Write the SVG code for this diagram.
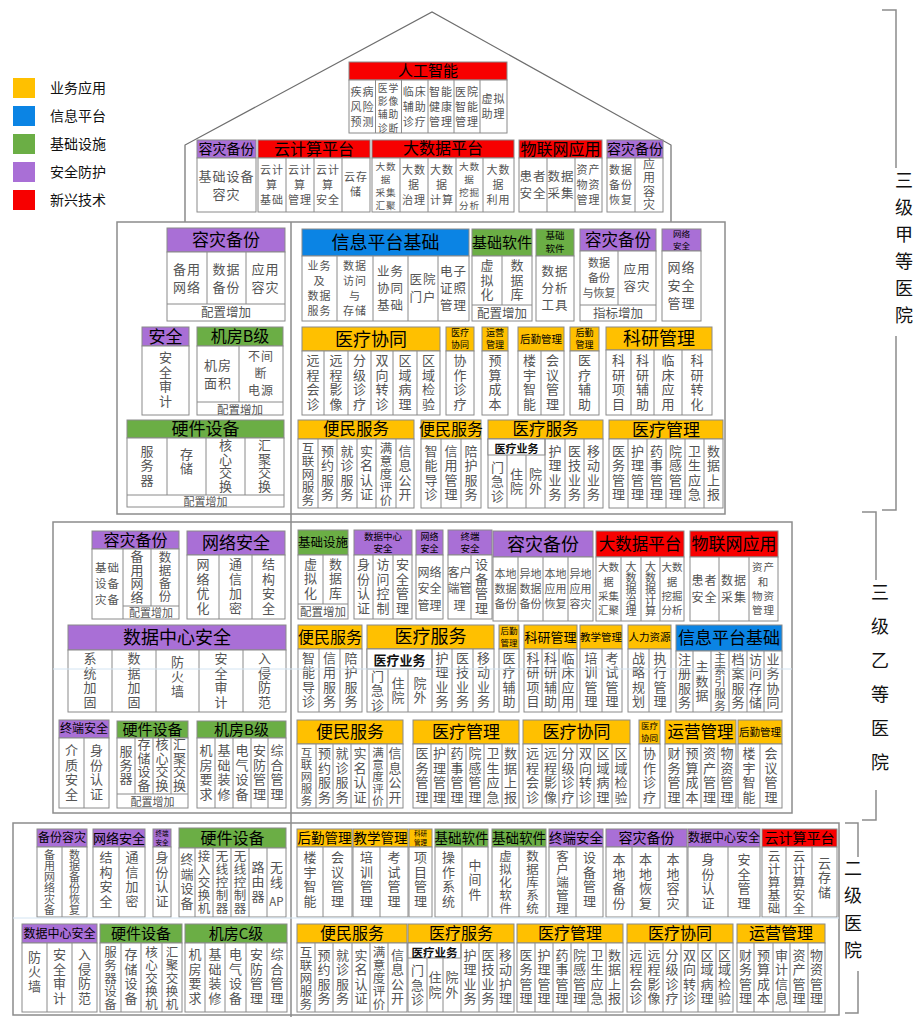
<svg xmlns="http://www.w3.org/2000/svg" width="920" height="1027" viewBox="0 0 920 1027">
<style>
text{font-family:"Noto Sans CJK SC","Noto Sans",sans-serif}
.o{fill:#FFC000}.b{fill:#0B84E4}.g{fill:#6BAE45}.p{fill:#A96FD6}.r{fill:#F70000}
.hd{stroke:#8a8a8a;stroke-width:1}
.bd{fill:#fff;stroke:#8a8a8a;stroke-width:1}
.sb{fill:#fff;stroke:#8a8a8a;stroke-width:1}
.dv{fill:none;stroke:#8a8a8a;stroke-width:1}
.ob{fill:none;stroke:#8c8c8c;stroke-width:1.5}
.ln{fill:none;stroke:#6e6e6e;stroke-width:1.2}
.fa{fill:none;stroke:#d3e4f2;stroke-width:1}
.h{text-anchor:middle;fill:#000}
.t{text-anchor:middle;fill:#555;font-size:12.5px;letter-spacing:1px}
.k{text-anchor:middle;fill:#555;font-size:12.5px}
.v{writing-mode:vertical-rl;text-anchor:middle;fill:#555;font-size:13px;letter-spacing:1.5px}
.v5{writing-mode:vertical-rl;text-anchor:middle;fill:#555;font-size:12.5px;letter-spacing:0.5px}
.v5s{writing-mode:vertical-rl;text-anchor:middle;fill:#555;font-size:11.5px;letter-spacing:0.5px}
.v6{writing-mode:vertical-rl;text-anchor:middle;fill:#555;font-size:11px;letter-spacing:0px}
.vt{letter-spacing:0.5px}
.sub{text-anchor:middle;fill:#111;font-weight:bold}
.lg{fill:#111;font-size:14px}
.lab{writing-mode:vertical-rl;text-anchor:middle;fill:#111;font-size:18px}
.f65{font-size:6.5px}.f85{font-size:8.5px}.f9s{font-size:9px}.f9{font-size:9.5px}.f96{font-size:9.6px}.f98{font-size:9.8px}.f10s{font-size:10px}.f10{font-size:10.5px}.f11s{font-size:11px}.f11{font-size:11.5px}.f12{font-size:12px}.f125{font-size:12.5px}.f13{font-size:13px}.f135{font-size:13.5px}.f14{font-size:14px}.f15{font-size:15px}.f16{font-size:16px}.f165{font-size:16.5px}.f17{font-size:17px}.f18{font-size:18px}
.l0{letter-spacing:0}
</style>

<g id="legend">
<rect class="o" x="13" y="78" width="22" height="20"/><text class="lg" x="50" y="93">业务应用</text>
<rect class="b" x="13" y="106" width="22" height="20"/><text class="lg" x="50" y="121">信息平台</text>
<rect class="g" x="13" y="134" width="22" height="20"/><text class="lg" x="50" y="149">基础设施</text>
<rect class="p" x="13" y="162" width="22" height="20"/><text class="lg" x="50" y="177">安全防护</text>
<rect class="r" x="13" y="190" width="22" height="20"/><text class="lg" x="50" y="205">新兴技术</text>
</g>

<g id="connectors">
<path class="ln" d="M185 222V145L432 12L671 145V222"/>
<path class="ln" d="M291 222V1017"/>
<path class="ob" d="M882 10H896V168M896 336V510H882"/>
<path class="ob" d="M862 512H876V580M876 790V820H862"/>
<path class="ob" d="M845 823H858V857M858 971V1013H845"/>
</g>

<g id="frames">
<rect class="ob" x="117" y="222" width="608" height="292"/>
<rect class="ob" x="53" y="522" width="739" height="291"/>
<rect class="ob" x="13" y="823" width="826" height="192"/>
</g>

<g id="labels">
<text class="lab" x="904" y="252" style="letter-spacing:9px">三级甲等医院</text>
<text class="lab" x="880" y="685" style="letter-spacing:16px">三级乙等医院</text>
<text class="lab" x="853" y="914" style="letter-spacing:9.5px">二级医院</text>
</g>

<!-- Roof -->
<g id="r-ai">
<rect class="hd r" x="349" y="62" width="158" height="18"/>
<rect class="bd" x="349" y="80" width="158" height="53"/>
<path class="dv" d="M375.5 80V133M401.5 80V133M428 80V133M454 80V133M480 80V133"/>
<text class="h f15" x="428" y="76.3">人工智能</text>
<text class="t f11s" x="362.5" y="95.6">疾病<tspan x="362.5" dy="15">风险</tspan><tspan x="362.5" dy="15">预测</tspan></text>
<text class="t f98" x="388.5" y="92">医学<tspan x="388.5" dy="13.2">影像</tspan><tspan x="388.5" dy="13.2">辅助</tspan><tspan x="388.5" dy="13.2">诊断</tspan></text>
<text class="t f11s" x="414.7" y="95.6">临床<tspan x="414.7" dy="15">辅助</tspan><tspan x="414.7" dy="15">诊疗</tspan></text>
<text class="t f11s" x="441" y="95.6">智能<tspan x="441" dy="15">健康</tspan><tspan x="441" dy="15">管理</tspan></text>
<text class="t f11s" x="467" y="95.6">医院<tspan x="467" dy="15">智能</tspan><tspan x="467" dy="15">管理</tspan></text>
<text class="t f11s" x="493.5" y="103.1">虚拟<tspan x="493.5" dy="15">助理</tspan></text>
</g>
<g id="r-dr1">
<rect class="hd p" x="197" y="140" width="59" height="18"/>
<rect class="bd" x="197" y="158" width="59" height="54"/>
<text class="h f14" x="226.5" y="154">容灾备份</text>
<text class="t f13" x="226.5" y="180.7">基础设备<tspan x="226.5" dy="18">容灾</tspan></text>
</g>
<g id="r-cloud">
<rect class="hd r" x="258" y="140" width="112" height="18"/>
<rect class="bd" x="258" y="158" width="112" height="54"/>
<path class="dv" d="M286 158V212M314 158V212M342 158V212"/>
<text class="h f16" x="314" y="154.8">云计算平台</text>
<text class="t f11s" x="272" y="173.9">云计<tspan x="272" dy="15">算</tspan><tspan x="272" dy="15">基础</tspan></text>
<text class="t f11s" x="300" y="173.9">云计<tspan x="300" dy="15">算</tspan><tspan x="300" dy="15">管理</tspan></text>
<text class="t f11s" x="328" y="173.9">云计<tspan x="328" dy="15">算</tspan><tspan x="328" dy="15">安全</tspan></text>
<text class="t f11s" x="356" y="181.4">云存<tspan x="356" dy="15">储</tspan></text>
</g>
<g id="r-bigdata">
<rect class="hd r" x="372" y="140" width="142" height="18"/>
<rect class="bd" x="372" y="158" width="142" height="54"/>
<path class="dv" d="M400 158V212M428 158V212M456 158V212M483 158V212"/>
<text class="h f16" x="443" y="153.5">大数据平台</text>
<text class="t f96" x="386" y="170">大数<tspan x="386" dy="13">据</tspan><tspan x="386" dy="13">采集</tspan><tspan x="386" dy="13">汇聚</tspan></text>
<text class="t f11s" x="414" y="173.9">大数<tspan x="414" dy="15">据</tspan><tspan x="414" dy="15">治理</tspan></text>
<text class="t f11s" x="442" y="173.9">大数<tspan x="442" dy="15">据</tspan><tspan x="442" dy="15">计算</tspan></text>
<text class="t f96" x="469.5" y="170">大数<tspan x="469.5" dy="13">据</tspan><tspan x="469.5" dy="13">挖掘</tspan><tspan x="469.5" dy="13">分析</tspan></text>
<text class="t f11s" x="498.5" y="173.9">大数<tspan x="498.5" dy="15">据</tspan><tspan x="498.5" dy="15">利用</tspan></text>
</g>
<g id="r-iot">
<rect class="hd r" x="519" y="140" width="83" height="18"/>
<rect class="bd" x="519" y="158" width="83" height="54"/>
<path class="dv" d="M547 158V212M575 158V212"/>
<text class="h f16" x="560.5" y="154.8">物联网应用</text>
<text class="t f125" x="533" y="180.9">患者<tspan x="533" dy="17.2">安全</tspan></text>
<text class="t f125" x="561" y="180.9">数据<tspan x="561" dy="17.2">采集</tspan></text>
<text class="t f11s" x="588.5" y="173.9">资产<tspan x="588.5" dy="15">物资</tspan><tspan x="588.5" dy="15">管理</tspan></text>
</g>
<g id="r-dr2">
<rect class="hd p" x="607" y="140" width="56" height="18"/>
<rect class="bd" x="607" y="158" width="56" height="54"/>
<path class="dv" d="M635 158V212"/>
<text class="h f14" x="635" y="154">容灾备份</text>
<text class="t f11s" x="621" y="173.9">数据<tspan x="621" dy="15">备份</tspan><tspan x="621" dy="15">恢复</tspan></text>
<text class="v f12" x="649" y="185">应用容灾</text>
</g>

<!-- 三级甲等 left -->
<g id="a-dr">
<rect class="hd p" x="167" y="228" width="118" height="24"/>
<rect class="bd" x="167" y="252" width="118" height="69"/>
<path class="dv" d="M207 252V304M246 252V304M167 304H285"/>
<text class="h f17" x="226" y="246.1">容灾备份</text>
<text class="t f13" x="187" y="273.7">备用<tspan x="187" dy="18">网络</tspan></text>
<text class="t f13" x="226.5" y="273.7">数据<tspan x="226.5" dy="18">备份</tspan></text>
<text class="t f13" x="265.5" y="273.7">应用<tspan x="265.5" dy="18">容灾</tspan></text>
<text class="k" x="226" y="317">配置增加</text>
</g>
<g id="a-sec">
<rect class="hd p" x="142" y="327" width="47" height="19"/>
<rect class="bd" x="142" y="346" width="47" height="69"/>
<text class="h f17" x="165.5" y="342.6">安全</text>
<text class="v" x="165.5" y="380">安全审计</text>
</g>
<g id="a-room">
<rect class="hd g" x="197" y="327" width="86" height="19"/>
<rect class="bd" x="197" y="346" width="86" height="69"/>
<path class="dv" d="M239 346V402M197 402H283"/>
<text class="h f16" x="240" y="342.3">机房B级</text>
<text class="t f13" x="218" y="369.7">机房<tspan x="218" dy="18">面积</tspan></text>
<text class="t f12" x="261" y="361.3">不间<tspan x="261" dy="17">断</tspan><tspan x="261" dy="17">电源</tspan></text>
<text class="k f11" x="240" y="413.5">配置增加</text>
</g>
<g id="a-hw">
<rect class="hd g" x="127" y="420" width="157" height="18"/>
<rect class="bd" x="127" y="438" width="157" height="69"/>
<path class="dv" d="M167 438V495M206 438V495M245 438V495M127 495H284"/>
<text class="h f17" x="205.5" y="435.1">硬件设备</text>
<text class="v" x="147" y="466">服务器</text>
<text class="v" x="186.5" y="462">存储</text>
<text class="v vt" x="225.5" y="466">核心交换</text>
<text class="v vt" x="264.5" y="466">汇聚交换</text>
<text class="k f11s" x="205.5" y="506">配置增加</text>
</g>

<!-- 三级甲等 right -->
<g id="a-info">
<rect class="hd b" x="302" y="229" width="167" height="27"/>
<rect class="bd" x="302" y="256" width="167" height="65"/>
<path class="dv" d="M337 256V321M373 256V321M408 256V321M438 256V321"/>
<text class="h f18" x="385.5" y="249">信息平台基础</text>
<text class="t f11s" x="319.5" y="270">业务<tspan x="319.5" dy="15">及</tspan><tspan x="319.5" dy="15">数据</tspan><tspan x="319.5" dy="15">服务</tspan></text>
<text class="t f11s" x="355" y="270">数据<tspan x="355" dy="15">访问</tspan><tspan x="355" dy="15">与</tspan><tspan x="355" dy="15">存储</tspan></text>
<text class="t f125" x="390.5" y="275.8">业务<tspan x="390.5" dy="17.2">协同</tspan><tspan x="390.5" dy="17.2">基础</tspan></text>
<text class="t f125" x="423" y="284.4">医院<tspan x="423" dy="17.2">门户</tspan></text>
<text class="t f125" x="453.5" y="275.8">电子<tspan x="453.5" dy="17.2">证照</tspan><tspan x="453.5" dy="17.2">管理</tspan></text>
</g>
<g id="a-sw1">
<rect class="hd g" x="472" y="229" width="60" height="27"/>
<rect class="bd" x="472" y="256" width="60" height="65"/>
<path class="dv" d="M502 256V305M472 305H532"/>
<text class="h f15" x="502" y="247.9">基础软件</text>
<text class="v" x="487" y="280.5">虚拟化</text>
<text class="v" x="517" y="280.5">数据库</text>
<text class="k" x="502" y="317.5">配置增加</text>
</g>
<g id="a-sw2">
<rect class="hd g" x="536" y="229" width="38" height="27"/>
<rect class="bd" x="536" y="256" width="38" height="65"/>
<text class="h f9" x="555" y="239.4">基础<tspan x="555" dy="13">软件</tspan></text>
<text class="t f125" x="555" y="275.8">数据<tspan x="555" dy="17.2">分析</tspan><tspan x="555" dy="17.2">工具</tspan></text>
</g>
<g id="a-dr2">
<rect class="hd p" x="580" y="229" width="76" height="22"/>
<rect class="bd" x="580" y="251" width="76" height="70"/>
<path class="dv" d="M618 251V305M580 305H656"/>
<text class="h f165" x="618" y="246">容灾备份</text>
<text class="t f11s l0" x="599" y="267">数据<tspan x="599" dy="15">备份</tspan><tspan x="599" dy="15">与恢复</tspan></text>
<text class="t f125" x="637" y="273.9">应用<tspan x="637" dy="17.2">容灾</tspan></text>
<text class="k" x="618" y="317.5">指标增加</text>
</g>
<g id="a-net">
<rect class="hd p" x="662" y="229" width="39" height="22"/>
<rect class="bd" x="662" y="251" width="39" height="70"/>
<text class="h f85" x="681.5" y="237.3">网络<tspan x="681.5" dy="11.4">安全</tspan></text>
<text class="t f13" x="681.5" y="272">网络<tspan x="681.5" dy="18">安全</tspan><tspan x="681.5" dy="18">管理</tspan></text>
</g>
<g id="a-coop">
<rect class="hd o" x="302" y="327" width="138" height="24"/>
<rect class="bd" x="302" y="351" width="138" height="64"/>
<path class="dv" d="M324 351V415M348 351V415M371 351V415M393 351V415M417 351V415"/>
<text class="h f18" x="371" y="345.5">医疗协同</text>
<text class="v" x="313" y="383">远程会诊</text>
<text class="v" x="336" y="383">远程影像</text>
<text class="v" x="359.5" y="383">分级诊疗</text>
<text class="v" x="382" y="383">双向转诊</text>
<text class="v" x="405" y="383">区域病理</text>
<text class="v" x="428.5" y="383">区域检验</text>
</g>
<g id="a-coop2">
<rect class="hd o" x="446" y="327" width="28" height="24"/>
<rect class="bd" x="446" y="351" width="28" height="64"/>
<text class="h f9s" x="460" y="336.2">医疗<tspan x="460" dy="12">协同</tspan></text>
<text class="v" x="460" y="383">协作诊疗</text>
</g>
<g id="a-ops">
<rect class="hd o" x="482" y="327" width="26" height="24"/>
<rect class="bd" x="482" y="351" width="26" height="64"/>
<text class="h f9s" x="495" y="336.2">运营<tspan x="495" dy="12">管理</tspan></text>
<text class="v" x="495" y="383">预算成本</text>
</g>
<g id="a-log1">
<rect class="hd o" x="518" y="327" width="46" height="24"/>
<rect class="bd" x="518" y="351" width="46" height="64"/>
<path class="dv" d="M541 351V415"/>
<text class="h f10" x="541" y="342.8">后勤管理</text>
<text class="v" x="529.5" y="383">楼宇智能</text>
<text class="v" x="552.5" y="383">会议管理</text>
</g>
<g id="a-log2">
<rect class="hd o" x="570" y="327" width="29" height="24"/>
<rect class="bd" x="570" y="351" width="29" height="64"/>
<text class="h f9s" x="584.5" y="336.2">后勤<tspan x="584.5" dy="12">管理</tspan></text>
<text class="v" x="584.5" y="383">医疗辅助</text>
</g>
<g id="a-res">
<rect class="hd o" x="606" y="327" width="106" height="23"/>
<rect class="bd" x="606" y="350" width="106" height="65"/>
<path class="dv" d="M631 350V415M654 350V415M682 350V415"/>
<text class="h f18" x="659" y="345">科研管理</text>
<text class="v" x="618.5" y="383">科研项目</text>
<text class="v" x="642.5" y="383">科研辅助</text>
<text class="v" x="668" y="383">临床应用</text>
<text class="v" x="697" y="383">科研转化</text>
</g>
<g id="a-svc1">
<rect class="hd o" x="298" y="420" width="116" height="19"/>
<rect class="bd" x="298" y="439" width="116" height="69"/>
<path class="dv" d="M318 439V508M337 439V508M357 439V508M376 439V508M396 439V508"/>
<text class="h f165" x="356" y="435.4">便民服务</text>
<text class="v5" x="308" y="474">互联网服务</text>
<text class="v" x="327.5" y="473.5">预约服务</text>
<text class="v" x="347" y="473.5">就诊服务</text>
<text class="v" x="366.5" y="473.5">实名认证</text>
<text class="v5" x="386" y="474">满意度评价</text>
<text class="v" x="405" y="473.5">信息公开</text>
</g>
<g id="a-svc2">
<rect class="hd o" x="421" y="420" width="60" height="19"/>
<rect class="bd" x="421" y="439" width="60" height="69"/>
<path class="dv" d="M441 439V508M461 439V508"/>
<text class="h f16" x="451" y="435.3">便民服务</text>
<text class="v" x="431" y="473.5">智能导诊</text>
<text class="v" x="451" y="473.5">信用管理</text>
<text class="v" x="471" y="473.5">陪护服务</text>
</g>
<g id="a-med">
<rect class="hd o" x="488" y="420" width="115" height="19"/>
<rect class="bd" x="488" y="439" width="115" height="69"/>
<rect class="sb" x="488" y="439" width="57" height="16"/>
<path class="dv" d="M507 455V508M526 455V508M545 439V508M565 439V508M584 439V508"/>
<text class="h f165" x="545.5" y="434.8">医疗服务</text>
<text class="sub f11s" x="516.5" y="453">医疗业务</text>
<text class="v" x="497.5" y="482">门急诊</text>
<text class="v" x="516.5" y="482">住院</text>
<text class="v" x="535.5" y="482">院外</text>
<text class="v" x="555" y="473.5">护理业务</text>
<text class="v" x="574.5" y="473.5">医技业务</text>
<text class="v" x="593.5" y="473.5">移动业务</text>
</g>
<g id="a-mgmt">
<rect class="hd o" x="609" y="420" width="114" height="19"/>
<rect class="bd" x="609" y="439" width="114" height="69"/>
<path class="dv" d="M628 439V508M647 439V508M666 439V508M685 439V508M704 439V508"/>
<text class="h f17" x="666" y="435.6">医疗管理</text>
<text class="v" x="618.5" y="473.5">医务管理</text>
<text class="v" x="637.5" y="473.5">护理管理</text>
<text class="v" x="656.5" y="473.5">药事管理</text>
<text class="v" x="675.5" y="473.5">院感管理</text>
<text class="v" x="694.5" y="473.5">卫生应急</text>
<text class="v" x="713.5" y="473.5">数据上报</text>
</g>

<!-- 三级乙等 -->
<g id="b-dr">
<rect class="hd p" x="92" y="531" width="87" height="18"/>
<rect class="bd" x="92" y="549" width="87" height="70"/>
<path class="dv" d="M123 549V619M151 549V606M123 606H179"/>
<text class="h f16" x="135.5" y="545.8">容灾备份</text>
<text class="t f11" x="107.5" y="572.4">基础<tspan x="107.5" dy="15.7">设备</tspan><tspan x="107.5" dy="15.7">灾备</tspan></text>
<text class="v vt" x="137" y="577">备用网络</text>
<text class="v5" x="165" y="577">数据备份</text>
<text class="k f11s" x="151" y="617">配置增加</text>
</g>
<g id="b-net">
<rect class="hd p" x="187" y="531" width="98" height="24"/>
<rect class="bd" x="187" y="555" width="98" height="64"/>
<path class="dv" d="M219 555V619M252 555V619"/>
<text class="h f17" x="236" y="549.1">网络安全</text>
<text class="v" x="203" y="587">网络优化</text>
<text class="v" x="235.5" y="587">通信加密</text>
<text class="v" x="268.5" y="587">结构安全</text>
</g>
<g id="b-dcs">
<rect class="hd p" x="68" y="625" width="218" height="25"/>
<rect class="bd" x="68" y="650" width="218" height="62"/>
<path class="dv" d="M112 650V712M156 650V712M199 650V712M243 650V712"/>
<text class="h f18" x="177" y="644">数据中心安全</text>
<text class="v" x="90" y="681">系统加固</text>
<text class="v" x="134" y="681">数据加固</text>
<text class="v" x="177.5" y="677">防火墙</text>
<text class="v" x="221" y="681">安全审计</text>
<text class="v" x="264.5" y="681">入侵防范</text>
</g>
<g id="b-infra">
<rect class="hd g" x="298" y="530" width="50" height="25"/>
<rect class="bd" x="298" y="555" width="50" height="64"/>
<path class="dv" d="M323 555V604M298 604H348"/>
<text class="h f125" x="323" y="547">基础设施</text>
<text class="v" x="310.5" y="579">虚拟化</text>
<text class="v" x="335.5" y="579">数据库</text>
<text class="k f11" x="323" y="615.5">配置增加</text>
</g>
<g id="b-dcs2">
<rect class="hd p" x="354" y="530" width="58" height="25"/>
<rect class="bd" x="354" y="555" width="58" height="64"/>
<path class="dv" d="M373 555V619M393 555V619"/>
<text class="h f9" x="383" y="539.5">数据中心<tspan x="383" dy="12.8">安全</tspan></text>
<text class="v" x="363.5" y="587">身份认证</text>
<text class="v" x="383" y="587">访问控制</text>
<text class="v" x="402.5" y="587">安全管理</text>
</g>
<g id="b-net2">
<rect class="hd p" x="416" y="530" width="27" height="25"/>
<rect class="bd" x="416" y="555" width="27" height="64"/>
<text class="h f9s" x="429.5" y="539.7">网络<tspan x="429.5" dy="12">安全</tspan></text>
<text class="t f12 l0" x="429.5" y="576.8">网络<tspan x="429.5" dy="16.5">安全</tspan><tspan x="429.5" dy="16.5">管理</tspan></text>
</g>
<g id="b-term">
<rect class="hd p" x="448" y="530" width="44" height="25"/>
<rect class="bd" x="448" y="555" width="44" height="64"/>
<path class="dv" d="M471 555V619"/>
<text class="h f9" x="470" y="539.5">终端<tspan x="470" dy="12.8">安全</tspan></text>
<text class="t f12 l0" x="459.5" y="576.8">客户<tspan x="459.5" dy="16.5">端管</tspan><tspan x="459.5" dy="16.5">理</tspan></text>
<text class="v" x="481.5" y="587">设备管理</text>
</g>
<g id="b-dr2">
<rect class="hd p" x="493" y="531" width="100" height="26"/>
<rect class="bd" x="493" y="557" width="100" height="64"/>
<path class="dv" d="M518 557V621M543 557V621M568 557V621"/>
<text class="h f18" x="543" y="550.5">容灾备份</text>
<text class="t f11s l0" x="505.5" y="578.1">本地<tspan x="505.5" dy="15">数据</tspan><tspan x="505.5" dy="15">备份</tspan></text>
<text class="t f11s l0" x="530.5" y="578.1">异地<tspan x="530.5" dy="15">数据</tspan><tspan x="530.5" dy="15">备份</tspan></text>
<text class="t f11s l0" x="555.5" y="578.1">本地<tspan x="555.5" dy="15">应用</tspan><tspan x="555.5" dy="15">恢复</tspan></text>
<text class="t f11s l0" x="580.5" y="578.1">异地<tspan x="580.5" dy="15">应用</tspan><tspan x="580.5" dy="15">容灾</tspan></text>
</g>
<g id="b-big">
<rect class="hd r" x="596" y="531" width="88" height="26"/>
<rect class="bd" x="596" y="557" width="88" height="64"/>
<path class="dv" d="M621 557V621M641 557V621M660 557V621"/>
<text class="h f165" x="640" y="550">大数据平台</text>
<text class="t f10 l0" x="608.5" y="571.3">大数<tspan x="608.5" dy="14.3">据</tspan><tspan x="608.5" dy="14.3">采集</tspan><tspan x="608.5" dy="14.3">汇聚</tspan></text>
<text class="v6" x="631" y="589">大数据治理</text>
<text class="v6" x="650.5" y="589">大数据计算</text>
<text class="t f10 l0" x="672" y="571.3">大数<tspan x="672" dy="14.3">据</tspan><tspan x="672" dy="14.3">挖掘</tspan><tspan x="672" dy="14.3">分析</tspan></text>
</g>
<g id="b-iot">
<rect class="hd r" x="690" y="531" width="88" height="26"/>
<rect class="bd" x="690" y="557" width="88" height="64"/>
<path class="dv" d="M719 557V621M749 557V621"/>
<text class="h f17" x="734" y="550.1">物联网应用</text>
<text class="t f12" x="704.5" y="585">患者<tspan x="704.5" dy="16.5">安全</tspan></text>
<text class="t f12" x="734" y="585">数据<tspan x="734" dy="16.5">采集</tspan></text>
<text class="t f10" x="763.5" y="571.3">资产<tspan x="763.5" dy="14.3">和</tspan><tspan x="763.5" dy="14.3">物资</tspan><tspan x="763.5" dy="14.3">管理</tspan></text>
</g>
<g id="b-svc">
<rect class="hd o" x="298" y="625" width="64" height="24"/>
<rect class="bd" x="298" y="649" width="64" height="63"/>
<path class="dv" d="M319 649V712M340 649V712"/>
<text class="h f16" x="330" y="642.8">便民服务</text>
<text class="v" x="308.5" y="680.5">智能导诊</text>
<text class="v" x="329.5" y="680.5">信用服务</text>
<text class="v" x="351" y="680.5">陪护服务</text>
</g>
<g id="b-med">
<rect class="hd o" x="367" y="625" width="127" height="24"/>
<rect class="bd" x="367" y="649" width="127" height="63"/>
<rect class="sb" x="367" y="649" width="65" height="20"/>
<path class="dv" d="M388 669V712M408 669V712M432 649V712M452 649V712M473 649V712"/>
<text class="h f18" x="430.5" y="643.3">医疗服务</text>
<text class="sub f13" x="399.5" y="664.6">医疗业务</text>
<text class="v" x="377.5" y="691">门急诊</text>
<text class="v" x="398" y="691">住院</text>
<text class="v" x="420" y="691">院外</text>
<text class="v" x="442" y="680.5">护理业务</text>
<text class="v" x="462.5" y="680.5">医技业务</text>
<text class="v" x="483.5" y="680.5">移动业务</text>
</g>
<g id="b-log">
<rect class="hd o" x="499" y="625" width="20" height="24"/>
<rect class="bd" x="499" y="649" width="20" height="63"/>
<text class="h f85" x="509" y="634.3">后勤<tspan x="509" dy="11.4">管理</tspan></text>
<text class="v" x="509" y="680.5">医疗辅助</text>
</g>
<g id="b-res">
<rect class="hd o" x="524" y="625" width="53" height="24"/>
<rect class="bd" x="524" y="649" width="53" height="63"/>
<path class="dv" d="M542 649V712M559 649V712"/>
<text class="h f13" x="550.5" y="641.7">科研管理</text>
<text class="v" x="533" y="680.5">科研项目</text>
<text class="v" x="550.5" y="680.5">科研辅助</text>
<text class="v" x="568" y="680.5">临床应用</text>
</g>
<g id="b-edu">
<rect class="hd o" x="580" y="625" width="42" height="24"/>
<rect class="bd" x="580" y="649" width="42" height="63"/>
<path class="dv" d="M602 649V712"/>
<text class="h f10" x="601" y="640.8">教学管理</text>
<text class="v" x="591" y="680.5">培训管理</text>
<text class="v" x="612" y="680.5">考试管理</text>
</g>
<g id="b-hr">
<rect class="hd o" x="628" y="625" width="43" height="24"/>
<rect class="bd" x="628" y="649" width="43" height="63"/>
<path class="dv" d="M649 649V712"/>
<text class="h f10" x="649.5" y="640.8">人力资源</text>
<text class="v" x="638.5" y="680.5">战略规划</text>
<text class="v" x="660" y="680.5">执行管理</text>
</g>
<g id="b-info">
<rect class="hd b" x="676" y="625" width="106" height="26"/>
<rect class="bd" x="676" y="651" width="106" height="61"/>
<path class="dv" d="M693 651V712M711 651V712M729 651V712M747 651V712M764 651V712"/>
<text class="h f17" x="729" y="644.1">信息平台基础</text>
<text class="v" x="684.5" y="681.5">注册服务</text>
<text class="v" x="702" y="681.5">主数据</text>
<text class="v5s" x="720" y="681.7">主索引服务</text>
<text class="v" x="738" y="681.5">档案服务</text>
<text class="v" x="755.5" y="681.5">访问存储</text>
<text class="v" x="773" y="681.5">业务协同</text>
</g>
<g id="b-term2">
<rect class="hd p" x="59" y="720" width="50" height="18"/>
<rect class="bd" x="59" y="738" width="50" height="70"/>
<path class="dv" d="M84 738V808"/>
<text class="h f12" x="84" y="733.3">终端安全</text>
<text class="v" x="71.5" y="773">介质安全</text>
<text class="v" x="96.5" y="773">身份认证</text>
</g>
<g id="b-hw">
<rect class="hd g" x="117" y="721" width="71" height="17"/>
<rect class="bd" x="117" y="738" width="71" height="70"/>
<path class="dv" d="M135 738V794M153 738V794M171 738V794M117 794H188"/>
<text class="h f15" x="152.5" y="734.9">硬件设备</text>
<text class="v vt" x="126" y="765">服务器</text>
<text class="v vt" x="144" y="765">存储设备</text>
<text class="v vt" x="162" y="765">核心交换</text>
<text class="v vt" x="179.5" y="765">汇聚交换</text>
<text class="k f11s" x="152.5" y="806">配置增加</text>
</g>
<g id="b-room">
<rect class="hd g" x="197" y="721" width="89" height="17"/>
<rect class="bd" x="197" y="738" width="89" height="70"/>
<path class="dv" d="M215 738V808M233 738V808M251 738V808M268 738V808"/>
<text class="h f15" x="241.5" y="734.9">机房B级</text>
<text class="v" x="206" y="773">机房要求</text>
<text class="v" x="224" y="773">基础装修</text>
<text class="v" x="242" y="773">电气设备</text>
<text class="v" x="259.5" y="773">安防管理</text>
<text class="v" x="277" y="773">综合管理</text>
</g>
<g id="b-svc2">
<rect class="hd o" x="297" y="720" width="106" height="24"/>
<rect class="bd" x="297" y="744" width="106" height="64"/>
<path class="dv" d="M316 744V808M333 744V808M351 744V808M369 744V808M387 744V808"/>
<text class="h f17" x="350" y="738.1">便民服务</text>
<text class="v5s" x="306.5" y="776.5">互联网服务</text>
<text class="v" x="324.5" y="776">预约服务</text>
<text class="v" x="342" y="776">就诊服务</text>
<text class="v" x="360" y="776">实名认证</text>
<text class="v5s" x="378" y="776.5">满意度评价</text>
<text class="v" x="395" y="776">信息公开</text>
</g>
<g id="b-mgmt">
<rect class="hd o" x="413" y="720" width="106" height="24"/>
<rect class="bd" x="413" y="744" width="106" height="64"/>
<path class="dv" d="M431 744V808M448 744V808M466 744V808M484 744V808M502 744V808"/>
<text class="h f17" x="466" y="738.1">医疗管理</text>
<text class="v" x="422" y="776">医务管理</text>
<text class="v" x="439.5" y="776">护理管理</text>
<text class="v" x="457" y="776">药事管理</text>
<text class="v" x="475" y="776">院感管理</text>
<text class="v" x="493" y="776">卫生应急</text>
<text class="v" x="510.5" y="776">数据上报</text>
</g>
<g id="b-coop">
<rect class="hd o" x="523" y="720" width="107" height="24"/>
<rect class="bd" x="523" y="744" width="107" height="64"/>
<path class="dv" d="M542 744V808M559 744V808M577 744V808M594 744V808M612 744V808"/>
<text class="h f17" x="576.5" y="738.1">医疗协同</text>
<text class="v" x="532.5" y="776">远程会诊</text>
<text class="v" x="550.5" y="776">远程影像</text>
<text class="v" x="568" y="776">分级诊疗</text>
<text class="v" x="585.5" y="776">双向转诊</text>
<text class="v" x="603" y="776">区域病理</text>
<text class="v" x="621" y="776">区域检验</text>
</g>
<g id="b-coop2">
<rect class="hd o" x="639" y="720" width="21" height="24"/>
<rect class="bd" x="639" y="744" width="21" height="64"/>
<text class="h f85" x="649.5" y="729.3">医疗<tspan x="649.5" dy="11.4">协同</tspan></text>
<text class="v" x="649.5" y="776">协作诊疗</text>
</g>
<g id="b-ops">
<rect class="hd o" x="665" y="720" width="71" height="24"/>
<rect class="bd" x="665" y="744" width="71" height="64"/>
<path class="dv" d="M683 744V808M701 744V808M718 744V808"/>
<text class="h f165" x="700.5" y="738">运营管理</text>
<text class="v" x="674" y="776">财务管理</text>
<text class="v" x="692" y="776">预算成本</text>
<text class="v" x="709.5" y="776">资产管理</text>
<text class="v" x="727" y="776">物资管理</text>
</g>
<g id="b-log2">
<rect class="hd o" x="738" y="720" width="44" height="24"/>
<rect class="bd" x="738" y="744" width="44" height="64"/>
<path class="dv" d="M760 744V808"/>
<text class="h f10" x="760" y="735.8">后勤管理</text>
<text class="v" x="749" y="776">楼宇智能</text>
<text class="v" x="771" y="776">会议管理</text>
</g>

<!-- 二级 -->
<g id="c-dr">
<rect class="hd p" x="37" y="829" width="50" height="18"/>
<rect class="bd" x="37" y="847" width="50" height="70"/>
<path class="dv" d="M62 847V917"/>
<text class="h f12" x="62" y="842.3">备份容灾</text>
<text class="v6" x="49.5" y="882">备用网络灾备</text>
<text class="v6" x="74.5" y="882">数据备份恢复</text>
</g>
<g id="c-net">
<rect class="hd p" x="93" y="829" width="52" height="18"/>
<rect class="bd" x="93" y="847" width="52" height="70"/>
<path class="dv" d="M119 847V917"/>
<text class="h f13" x="119" y="842.7">网络安全</text>
<text class="v" x="106" y="880">结构安全</text>
<text class="v" x="132" y="880">通信加密</text>
</g>
<g id="c-term">
<rect class="hd p" x="153" y="829" width="18" height="18"/>
<rect class="bd" x="153" y="847" width="18" height="70"/>
<text class="h f65" x="162" y="836.1">终端<tspan x="162" dy="8.5">安全</tspan></text>
<text class="v" x="162" y="880">身份认证</text>
</g>
<g id="c-hw">
<rect class="hd g" x="179" y="828" width="107" height="20"/>
<rect class="bd" x="179" y="848" width="107" height="69"/>
<path class="dv" d="M195 848V917M213 848V917M231 848V917M249 848V917M267 848V917"/>
<text class="h f16" x="232.5" y="843.8">硬件设备</text>
<text class="v" x="187" y="882">终端设备</text>
<text class="v5" x="204" y="882.5">接入交换机</text>
<text class="v5" x="222" y="882.5">无线控制器</text>
<text class="v5" x="240" y="882.5">无线控制器</text>
<text class="v" x="258" y="882">路由器</text>
<text class="v" x="276.5" y="875.5">无线</text>
<text class="k f11" x="276.5" y="906">AP</text>
</g>
<g id="c-log">
<rect class="hd o" x="297" y="829" width="55" height="18"/>
<rect class="bd" x="297" y="847" width="55" height="70"/>
<path class="dv" d="M323 847V917"/>
<text class="h f135" x="324.5" y="842.9">后勤管理</text>
<text class="v" x="310" y="880">楼宇智能</text>
<text class="v" x="337.5" y="880">会议管理</text>
</g>
<g id="c-edu">
<rect class="hd o" x="353" y="829" width="55" height="18"/>
<rect class="bd" x="353" y="847" width="55" height="70"/>
<path class="dv" d="M380 847V917"/>
<text class="h f135" x="380.5" y="842.9">教学管理</text>
<text class="v" x="366.5" y="880">培训管理</text>
<text class="v" x="394" y="880">考试管理</text>
</g>
<g id="c-res">
<rect class="hd o" x="409" y="829" width="23" height="18"/>
<rect class="bd" x="409" y="847" width="23" height="70"/>
<text class="h f65" x="420.5" y="836.1">科研<tspan x="420.5" dy="8.5">管理</tspan></text>
<text class="v" x="420.5" y="880">项目管理</text>
</g>
<g id="c-sw1">
<rect class="hd g" x="435" y="829" width="53" height="18"/>
<rect class="bd" x="435" y="847" width="53" height="70"/>
<path class="dv" d="M462 847V917"/>
<text class="h f135" x="461.5" y="842.9">基础软件</text>
<text class="v" x="448.5" y="880">操作系统</text>
<text class="v" x="475" y="880">中间件</text>
</g>
<g id="c-sw2">
<rect class="hd g" x="492" y="829" width="54" height="18"/>
<rect class="bd" x="492" y="847" width="54" height="70"/>
<path class="dv" d="M519 847V917"/>
<text class="h f135" x="519" y="842.9">基础软件</text>
<text class="v5" x="505.5" y="882.5">虚拟化软件</text>
<text class="v5" x="532.5" y="882.5">数据库系统</text>
</g>
<g id="c-term2">
<rect class="hd p" x="549" y="829" width="54" height="18"/>
<rect class="bd" x="549" y="847" width="54" height="70"/>
<path class="dv" d="M576 847V917"/>
<text class="h f135" x="576" y="842.9">终端安全</text>
<text class="v5" x="562.5" y="882.5">客户端管理</text>
<text class="v" x="589.5" y="880">设备管理</text>
</g>
<g id="c-dr2">
<rect class="hd p" x="606" y="829" width="81" height="18"/>
<rect class="bd" x="606" y="847" width="81" height="70"/>
<path class="dv" d="M632 847V917M659 847V917"/>
<text class="h f14" x="646.5" y="843">容灾备份</text>
<text class="v" x="619" y="882">本地备份</text>
<text class="v" x="645.5" y="882">本地恢复</text>
<text class="v" x="673" y="882">本地容灾</text>
</g>
<g id="c-dcs">
<rect class="hd p" x="688" y="829" width="72" height="18"/>
<rect class="bd" x="688" y="847" width="72" height="70"/>
<path class="dv" d="M728 847V917"/>
<text class="h f12" x="724" y="842.3">数据中心安全</text>
<text class="v" x="708" y="882">身份认证</text>
<text class="v" x="744" y="882">安全管理</text>
</g>
<g id="c-cloud">
<rect class="hd r" x="762" y="829" width="75" height="18"/>
<rect class="bd" x="762" y="847" width="75" height="70"/>
<path class="dv" d="M786 847V917M812 847V917"/>
<text class="h f14" x="799.5" y="843">云计算平台</text>
<text class="v5" x="774" y="882.5">云计算基础</text>
<text class="v5" x="799" y="882.5">云计算安全</text>
<text class="v" x="824.5" y="878">云存储</text>
</g>
<g id="c-dcs2">
<rect class="hd p" x="22" y="924" width="75" height="19"/>
<rect class="bd" x="22" y="943" width="75" height="69"/>
<path class="dv" d="M47 943V1012M72 943V1012"/>
<text class="h f12" x="59.5" y="937.8">数据中心安全</text>
<text class="v" x="34.5" y="972">防火墙</text>
<text class="v" x="59.5" y="977">安全审计</text>
<text class="v" x="84.5" y="977">入侵防范</text>
</g>
<g id="c-hw2">
<rect class="hd g" x="100" y="924" width="82" height="19"/>
<rect class="bd" x="100" y="943" width="82" height="69"/>
<path class="dv" d="M121 943V1012M141 943V1012M162 943V1012"/>
<text class="h f15" x="141" y="938.9">硬件设备</text>
<text class="v5" x="110.5" y="978">服务器设备</text>
<text class="v" x="131" y="977">存储设备</text>
<text class="v5" x="151.5" y="978">核心交换机</text>
<text class="v5" x="172" y="978">汇聚交换机</text>
</g>
<g id="c-room">
<rect class="hd g" x="185" y="924" width="102" height="19"/>
<rect class="bd" x="185" y="943" width="102" height="69"/>
<path class="dv" d="M205 943V1012M225 943V1012M246 943V1012M267 943V1012"/>
<text class="h f15" x="236" y="938.9">机房C级</text>
<text class="v" x="195" y="977">机房要求</text>
<text class="v" x="215" y="977">基础装修</text>
<text class="v" x="235.5" y="977">电气设备</text>
<text class="v" x="256.5" y="977">安防管理</text>
<text class="v" x="277" y="977">综合管理</text>
</g>
<g id="c-svc">
<rect class="hd o" x="297" y="924" width="110" height="19"/>
<rect class="bd" x="297" y="943" width="110" height="69"/>
<path class="dv" d="M315 943V1012M333 943V1012M352 943V1012M370 943V1012M388 943V1012"/>
<text class="h f16" x="352" y="939.3">便民服务</text>
<text class="v5" x="306" y="978">互联网服务</text>
<text class="v" x="324" y="977.5">预约服务</text>
<text class="v" x="342.5" y="977.5">就诊服务</text>
<text class="v" x="361" y="977.5">实名认证</text>
<text class="v5" x="379" y="978">满意度评价</text>
<text class="v" x="397.5" y="977.5">信息公开</text>
</g>
<g id="c-med">
<rect class="hd o" x="408" y="924" width="106" height="19"/>
<rect class="bd" x="408" y="943" width="106" height="69"/>
<rect class="sb" x="408" y="943" width="53" height="15"/>
<path class="dv" d="M427 958V1012M443 958V1012M461 943V1012M479 943V1012M497 943V1012"/>
<text class="h f16" x="461" y="938.5">医疗服务</text>
<text class="sub f11" x="434.5" y="956.5">医疗业务</text>
<text class="v" x="417.5" y="985.5">门急诊</text>
<text class="v" x="435" y="985.5">住院</text>
<text class="v" x="452" y="985.5">院外</text>
<text class="v" x="470" y="977.5">护理业务</text>
<text class="v" x="488" y="977.5">医技业务</text>
<text class="v" x="505.5" y="977.5">移动护理</text>
</g>
<g id="c-mgmt">
<rect class="hd o" x="517" y="924" width="106" height="19"/>
<rect class="bd" x="517" y="943" width="106" height="69"/>
<path class="dv" d="M535 943V1012M553 943V1012M571 943V1012M588 943V1012M606 943V1012"/>
<text class="h f16" x="570" y="939.3">医疗管理</text>
<text class="v" x="526" y="977.5">医务管理</text>
<text class="v" x="544" y="977.5">护理管理</text>
<text class="v" x="562" y="977.5">药事管理</text>
<text class="v" x="579.5" y="977.5">院感管理</text>
<text class="v" x="597" y="977.5">卫生应急</text>
<text class="v" x="614.5" y="977.5">数据上报</text>
</g>
<g id="c-coop">
<rect class="hd o" x="627" y="924" width="106" height="19"/>
<rect class="bd" x="627" y="943" width="106" height="69"/>
<path class="dv" d="M645 943V1012M663 943V1012M681 943V1012M698 943V1012M716 943V1012"/>
<text class="h f16" x="680" y="939.3">医疗协同</text>
<text class="v" x="636" y="977.5">远程会诊</text>
<text class="v" x="654" y="977.5">远程影像</text>
<text class="v" x="672" y="977.5">分级诊疗</text>
<text class="v" x="689.5" y="977.5">双向转诊</text>
<text class="v" x="707" y="977.5">区域病理</text>
<text class="v" x="724.5" y="977.5">区域检验</text>
</g>
<g id="c-ops">
<rect class="hd o" x="737" y="924" width="88" height="19"/>
<rect class="bd" x="737" y="943" width="88" height="69"/>
<path class="dv" d="M754 943V1012M773 943V1012M790 943V1012M808 943V1012"/>
<text class="h f16" x="781" y="939.3">运营管理</text>
<text class="v" x="745.5" y="977.5">财务管理</text>
<text class="v" x="763.5" y="977.5">预算成本</text>
<text class="v" x="781.5" y="977.5">审计信息</text>
<text class="v" x="799" y="977.5">资产管理</text>
<text class="v" x="816.5" y="977.5">物资管理</text>
</g>

<g id="faint">
<path class="fa" d="M53 669H792M13 918H839"/>
</g>
</svg>
